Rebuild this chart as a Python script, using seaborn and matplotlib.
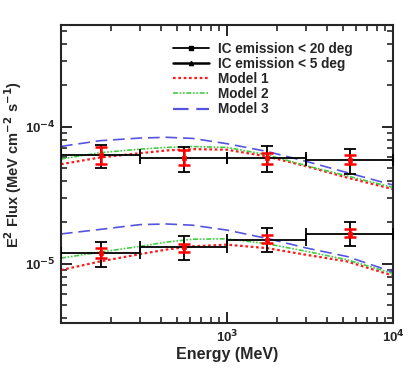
import numpy as np
import pandas as pd
import matplotlib
matplotlib.use("Agg")
import matplotlib.pyplot as plt
from matplotlib.lines import Line2D
from matplotlib.ticker import LogLocator, NullFormatter
import seaborn as sns

# энергетические бины (MeV)
bin_lo = [100, 300, 1000, 3000]
bin_hi = [300, 1000, 3000, 10000]
e_pts = [173, 548, 1732, 5477]

# IC < 20 deg
ic20_flux = [6.25e-5, 5.92e-5, 5.88e-5, 5.75e-5]
ic20_lo = [5.03e-5, 4.70e-5, 4.70e-5, 4.54e-5]
ic20_hi = [7.38e-5, 7.13e-5, 7.17e-5, 6.86e-5]
ic20_red_lo = [5.32e-5, 5.25e-5, 5.32e-5, 5.32e-5]
ic20_red_hi = [7.13e-5, 6.75e-5, 6.37e-5, 6.20e-5]

# IC < 5 deg
ic5_flux = [1.195e-5, 1.32e-5, 1.50e-5, 1.66e-5]
ic5_lo = [9.55e-6, 1.06e-5, 1.21e-5, 1.34e-5]
ic5_hi = [1.43e-5, 1.59e-5, 1.82e-5, 2.01e-5]
ic5_red_lo = [1.11e-5, 1.22e-5, 1.42e-5, 1.57e-5]
ic5_red_hi = [1.30e-5, 1.40e-5, 1.61e-5, 1.78e-5]

# модели
model_e = [100, 172, 300, 434, 620, 1000, 1740, 3030, 5280, 10000]
m1_up = [5.32e-5, 5.95e-5, 6.40e-5, 6.70e-5, 6.85e-5, 6.78e-5, 6.06e-5, 5.12e-5, 4.25e-5, 3.50e-5]
m2_up = [5.80e-5, 6.45e-5, 6.85e-5, 7.05e-5, 7.15e-5, 7.05e-5, 6.23e-5, 5.17e-5, 4.37e-5, 3.60e-5]
m3_up = [7.17e-5, 7.89e-5, 8.25e-5, 8.35e-5, 8.20e-5, 7.50e-5, 6.59e-5, 5.56e-5, 4.62e-5, 3.75e-5]
m1_lo = [9.0e-6, 1.04e-5, 1.176e-5, 1.27e-5, 1.34e-5, 1.378e-5, 1.30e-5, 1.16e-5, 1.04e-5, 8.2e-6]
m2_lo = [1.10e-5, 1.216e-5, 1.34e-5, 1.44e-5, 1.51e-5, 1.52e-5, 1.40e-5, 1.23e-5, 1.07e-5, 8.5e-6]
m3_lo = [1.65e-5, 1.78e-5, 1.93e-5, 1.95e-5, 1.91e-5, 1.76e-5, 1.53e-5, 1.30e-5, 1.13e-5, 8.7e-6]

sns.set_style("ticks")
plt.rcParams["font.family"] = ["Liberation Sans", "DejaVu Sans"]
plt.rcParams["font.weight"] = "bold"
plt.rcParams["mathtext.default"] = "bf"
plt.rcParams["axes.labelweight"] = "bold"

fig = plt.figure(figsize=(4.15, 3.73), dpi=100)
ax = fig.add_axes([0.147, 0.134, 0.8, 0.799])

styles = {
    "Model 1": dict(color="#ff1a1a", dashes=(1.2, 1.2), lw=1.6),
    "Model 2": dict(color="#44cc44", dashes=(3, 1, 1, 1, 1, 1), lw=1.2),
    "Model 3": dict(color="#5555dd", dashes=(7, 3.5), lw=1.2),
}
models = {"Model 1": (m1_up, m1_lo), "Model 2": (m2_up, m2_lo), "Model 3": (m3_up, m3_lo)}
for name, (up, lo) in models.items():
    st = styles[name]
    for curve in (up, lo):
        sns.lineplot(x=model_e, y=curve, ax=ax, color=st["color"], lw=st["lw"],
                     dashes=False, legend=False).lines[-1].set_dashes(st["dashes"])

# точки данных
for flux, lo, hi, rlo, rhi in [(ic20_flux, ic20_lo, ic20_hi, ic20_red_lo, ic20_red_hi),
                               (ic5_flux, ic5_lo, ic5_hi, ic5_red_lo, ic5_red_hi)]:
    f = np.array(flux)
    xerr = [np.array(e_pts) - np.array(bin_lo), np.array(bin_hi) - np.array(e_pts)]
    yerr = [f - np.array(lo), np.array(hi) - f]
    ax.errorbar(e_pts, f, xerr=xerr, yerr=yerr, fmt="none", ecolor="black",
                elinewidth=1.3, capsize=4.5, capthick=1.3, zorder=4)
    ax.errorbar(e_pts, f, yerr=[f - np.array(rlo), np.array(rhi) - f], fmt="none",
                ecolor="red", elinewidth=1.8, capsize=4, capthick=1.8, zorder=5)
    sns.scatterplot(x=e_pts, y=flux, ax=ax, marker="s", s=12, color="red",
                    edgecolor="red", linewidth=0.5, zorder=6, legend=False)

ax.set_xscale("log")
ax.set_yscale("log")
ax.set_xlim(100, 10000)
ax.set_ylim(3.7e-6, 5.5e-4)

ax.set_xticks([1000, 10000])
ax.set_xticklabels(["10$^{3}$", "10$^{4}$"])
ax.set_yticks([1e-5, 1e-4])
ax.set_yticklabels(["10$^{-5}$", "10$^{-4}$"])
ax.xaxis.set_minor_locator(LogLocator(base=10, subs=np.arange(2, 10), numticks=20))
ax.yaxis.set_minor_locator(LogLocator(base=10, subs=np.arange(2, 10), numticks=20))
ax.xaxis.set_minor_formatter(NullFormatter())
ax.yaxis.set_minor_formatter(NullFormatter())

ax.tick_params(which="both", direction="in", top=True, right=True, labelsize=9.5, pad=4)
ax.tick_params(which="major", length=8, width=1.4)
ax.tick_params(which="minor", length=4.5, width=1.2)
for sp in ax.spines.values():
    sp.set_linewidth(1.5)

ax.set_xlabel("Energy (MeV)", fontsize=11.5, fontweight="bold", labelpad=1)
ax.set_ylabel("E$^{2}$ Flux (MeV cm$^{-2}$ s$^{-1}$)", fontsize=10.5, fontweight="bold")
ax.yaxis.set_label_coords(-0.112, 0.53)

handles = [
    Line2D([], [], color="black", lw=1.3, marker="s", markersize=3),
    Line2D([], [], color="black", lw=1.8, marker="^", markersize=3),
    Line2D([], [], color=styles["Model 1"]["color"], lw=1.6, dashes=styles["Model 1"]["dashes"]),
    Line2D([], [], color=styles["Model 2"]["color"], lw=1.2, dashes=styles["Model 2"]["dashes"]),
    Line2D([], [], color=styles["Model 3"]["color"], lw=1.6, dashes=styles["Model 3"]["dashes"]),
]
labels = ["IC emission < 20 deg", "IC emission < 5 deg", "Model 1", "Model 2", "Model 3"]
leg = ax.legend(handles, labels, loc="upper left", bbox_to_anchor=(0.31, 0.975), frameon=False,
                handlelength=2.6, handletextpad=0.7, labelspacing=0.08,
                borderpad=0.2, prop={"weight": "bold", "size": 9.8})

fig.savefig("out.png", dpi=100)
